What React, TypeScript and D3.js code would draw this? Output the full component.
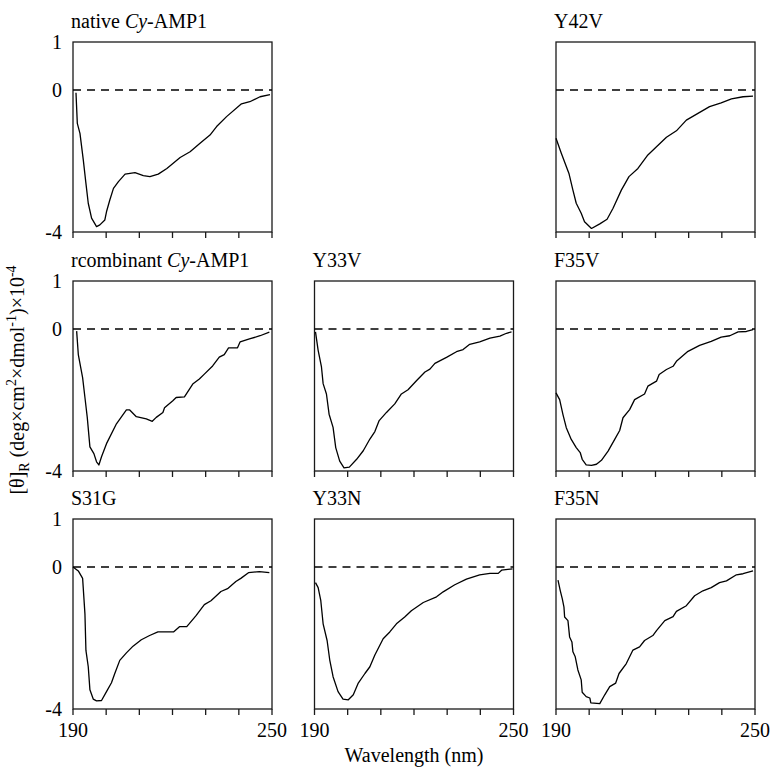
import * as d3 from "d3";
import React from "react";

// wavelength (nm), [θ]R ×10^-4
const nativeCyAmp1: [number, number][] = [
  [190.9, -0.08], [191.3, -0.94], [192.1, -1.22], [193.1, -1.97], [193.9, -2.63],
  [194.6, -3.19], [195.6, -3.61], [197.1, -3.85], [198.1, -3.8], [199.6, -3.66],
  [200.1, -3.43], [201.1, -3.1], [202.2, -2.77], [203.7, -2.58], [205.7, -2.37],
  [208.7, -2.33], [211.2, -2.41], [213.2, -2.44], [215.7, -2.37], [218.3, -2.21],
  [222.3, -1.9], [225.3, -1.74], [228.3, -1.5], [231.3, -1.27], [233.3, -1.03],
  [236.3, -0.75], [240.8, -0.39], [243.3, -0.33], [246.4, -0.19], [249.4, -0.13],
];

const y42v: [number, number][] = [
  [190, -1.36], [191.6, -1.78], [193.9, -2.35], [195.1, -2.82], [196.1, -3.19],
  [197.6, -3.47], [198.6, -3.71], [200.7, -3.9], [203.2, -3.77], [205.4, -3.64],
  [207.2, -3.33], [209.7, -2.82], [212.0, -2.44], [214.7, -2.21], [217.7, -1.83],
  [220.3, -1.6], [223.3, -1.33], [226.3, -1.15], [229.3, -0.85], [232.8, -0.66],
  [236.3, -0.47], [239.8, -0.36], [242.9, -0.25], [246.4, -0.19], [249.4, -0.17],
];

const recombinantCyAmp1: [number, number][] = [
  [191.1, -0.06], [191.6, -0.72], [192.9, -1.37], [193.6, -1.93], [194.3, -2.49],
  [195.1, -3.32], [196.3, -3.51], [197.1, -3.74], [197.8, -3.83], [198.6, -3.6],
  [200.1, -3.23], [203.1, -2.67], [206.1, -2.28], [207.1, -2.28], [209.1, -2.47],
  [212.1, -2.53], [213.9, -2.6], [215.1, -2.49], [217.1, -2.35], [217.6, -2.22],
  [220.1, -2.02], [221.1, -1.93], [223.6, -1.91], [226.1, -1.55], [228.1, -1.41],
  [229.6, -1.27], [232.1, -1.04], [234.1, -0.79], [235.6, -0.72], [236.9, -0.53],
  [239.6, -0.53], [240.4, -0.36], [243.2, -0.28], [246.4, -0.19], [249.2, -0.09],
];

const y33v: [number, number][] = [
  [190.3, -0.08], [191.1, -0.6], [192.1, -1.07], [192.6, -1.54], [193.6, -1.83],
  [194.4, -2.4], [195.6, -2.77], [196.4, -3.34], [197.6, -3.72], [198.9, -3.91],
  [200.5, -3.89], [202.7, -3.67], [204.7, -3.43], [206.7, -3.1], [208.2, -2.89],
  [209.5, -2.58], [211.7, -2.35], [214.2, -2.11], [216.2, -1.83], [218.2, -1.71],
  [220.8, -1.45], [223.3, -1.21], [224.8, -1.13], [226.3, -0.97], [229.8, -0.8],
  [232.8, -0.64], [234.8, -0.58], [236.8, -0.43], [239.8, -0.36], [242.9, -0.26],
  [245.9, -0.2], [247.9, -0.12], [249.4, -0.08],
];

const f35v: [number, number][] = [
  [190, -1.8], [191.1, -1.99], [192.1, -2.41], [193.1, -2.78], [194.6, -3.11],
  [196.1, -3.34], [197.3, -3.48], [197.9, -3.67], [199.1, -3.83], [200.7, -3.84],
  [202.2, -3.81], [203.7, -3.7], [205.7, -3.44], [207.7, -3.11], [209.2, -2.86],
  [210.2, -2.5], [212.2, -2.27], [213.7, -1.99], [216.7, -1.83], [217.7, -1.61],
  [220.3, -1.47], [221.1, -1.28], [223.3, -1.14], [225.3, -1.05], [226.3, -0.91],
  [229.8, -0.63], [233.3, -0.46], [236.8, -0.35], [239.8, -0.23], [242.4, -0.19],
  [244.9, -0.08], [247.4, -0.07], [249.4, -0.02],
];

const s31g: [number, number][] = [
  [190, 0], [191.6, -0.11], [192.9, -0.32], [193.6, -1.32], [193.9, -2.35],
  [194.6, -2.81], [195.1, -3.46], [196.1, -3.72], [197.1, -3.77], [198.6, -3.76],
  [200.1, -3.51], [201.6, -3.26], [202.6, -3.0], [204.1, -2.63], [206.1, -2.42],
  [208.1, -2.23], [210.6, -2.05], [213.1, -1.93], [215.6, -1.83], [220.3, -1.83],
  [222.1, -1.68], [224.3, -1.68], [227.1, -1.37], [229.6, -1.06], [231.6, -0.95],
  [234.6, -0.69], [236.6, -0.61], [239.1, -0.41], [240.6, -0.32], [242.9, -0.16],
  [246.2, -0.13], [249.2, -0.16],
];

const y33n: [number, number][] = [
  [190.3, -0.44], [191.1, -0.58], [191.9, -0.95], [192.6, -1.6], [193.8, -2.07],
  [194.6, -2.62], [195.6, -3.09], [197.1, -3.51], [198.6, -3.72], [200.2, -3.74],
  [201.7, -3.6], [203.2, -3.27], [205.2, -3.0], [206.7, -2.81], [208.2, -2.48],
  [210.7, -2.02], [212.7, -1.83], [214.7, -1.6], [217.2, -1.41], [219.2, -1.23],
  [222.8, -1.0], [226.8, -0.84], [228.8, -0.7], [232.3, -0.5], [235.8, -0.34],
  [239.8, -0.22], [242.9, -0.18], [245.4, -0.18], [246.4, -0.09], [249.7, -0.05],
];

const f35n: [number, number][] = [
  [190.6, -0.37], [191.3, -0.67], [191.9, -0.9], [192.4, -1.13], [192.6, -1.41],
  [193.6, -1.51], [194.1, -1.97], [194.8, -2.11], [195.1, -2.39], [195.8, -2.53],
  [196.6, -2.9], [197.6, -3.18], [197.9, -3.53], [199.1, -3.65], [200.2, -3.69],
  [200.5, -3.83], [203.2, -3.85], [204.7, -3.6], [206.2, -3.37], [208.0, -3.27],
  [209.0, -3.0], [211.2, -2.72], [213.2, -2.34], [215.2, -2.25], [216.7, -2.07],
  [219.2, -1.93], [220.3, -1.79], [222.8, -1.51], [225.3, -1.4], [226.3, -1.25],
  [229.3, -1.09], [231.8, -0.81], [234.3, -0.67], [236.8, -0.58], [239.3, -0.44],
  [241.4, -0.39], [244.4, -0.22], [246.4, -0.19], [249.4, -0.11],
];

const xTicks = [190, 200, 210, 220, 230, 240, 250];
const xTickLabels = [190, 250];
const yTickLabels = [1, 0, -4];

const panels = [
  { title: ["native ", "Cy", "-AMP1"], data: nativeCyAmp1, row: 0, col: 0 },
  { title: ["Y42V"], data: y42v, row: 0, col: 2 },
  { title: ["rcombinant ", "Cy", "-AMP1"], data: recombinantCyAmp1, row: 1, col: 0 },
  { title: ["Y33V"], data: y33v, row: 1, col: 1 },
  { title: ["F35V"], data: f35v, row: 1, col: 2 },
  { title: ["S31G"], data: s31g, row: 2, col: 0 },
  { title: ["Y33N"], data: y33n, row: 2, col: 1 },
  { title: ["F35N"], data: f35n, row: 2, col: 2 },
];

const colLeft = [73, 314.5, 556];
const rowTop = [42, 281, 519];
const pw = 199;
const ph = 190;
const font = "'Liberation Serif', 'Times New Roman', serif";
const fs = 20;

const x = d3.scaleLinear().domain([190, 250]).range([0, pw]);
// 1 sits at the frame top, the 0..-4 span is linear below it
const y = d3.scaleLinear().domain([-4, 0, 1]).range([ph, 48, 0]);
const line = d3.line<[number, number]>().x(d => x(d[0])).y(d => y(d[1]));

const Panel = ({ p }: { p: typeof panels[number] }) => {
  const tx = colLeft[p.col];
  const ty = rowTop[p.row];
  return (
    <g transform={`translate(${tx},${ty})`}>
      <text x={-2} y={-14} fontSize={fs} fontFamily={font}>
        {p.title.map((t, i) => (
          <tspan key={i} fontStyle={t === "Cy" ? "italic" : "normal"}>{t}</tspan>
        ))}
      </text>
      <rect x={0} y={0} width={pw} height={ph} fill="none" stroke="#1a1a1a" strokeWidth={1.3} />
      <line x1={0} x2={pw} y1={y(0)} y2={y(0)} stroke="#000" strokeWidth={1.3} strokeDasharray="8,6" />
      {xTicks.map(t => (
        <line key={t} x1={x(t)} x2={x(t)} y1={ph} y2={ph + 6} stroke="#1a1a1a" strokeWidth={1.3} />
      ))}
      <path d={line(p.data) || ""} fill="none" stroke="#000" strokeWidth={1.3} strokeLinejoin="round" />
      {p.col === 0 && yTickLabels.map(t => (
        <text key={t} x={-11} y={y(t)} dy="0.35em" textAnchor="end" fontSize={fs} fontFamily={font}>{t}</text>
      ))}
      {p.row === 2 && xTickLabels.map(t => (
        <text key={t} x={x(t)} y={ph + 28} textAnchor="middle" fontSize={fs} fontFamily={font}>{t}</text>
      ))}
    </g>
  );
};

export default function App() {
  return (
    <svg width={773} height={769} style={{ position: "absolute", left: 0, top: 0, background: "#fff" }}>
      {panels.map((p, i) => <Panel key={i} p={p} />)}
      <text x={colLeft[1] + pw / 2} y={762} textAnchor="middle" fontSize={fs} fontFamily={font}>Wavelength (nm)</text>
      <text transform="translate(24,380) rotate(-90)" textAnchor="middle" fontSize={fs} fontFamily={font}>
        [θ]<tspan fontSize={14} dy={5}>R</tspan>
        <tspan dy={-5}> (deg×cm</tspan>
        <tspan fontSize={14} dy={-8}>2</tspan>
        <tspan dy={8}>×dmol</tspan>
        <tspan fontSize={14} dy={-8}>-1</tspan>
        <tspan dy={8}>)×10</tspan>
        <tspan fontSize={14} dy={-8}>-4</tspan>
      </text>
    </svg>
  );
}
